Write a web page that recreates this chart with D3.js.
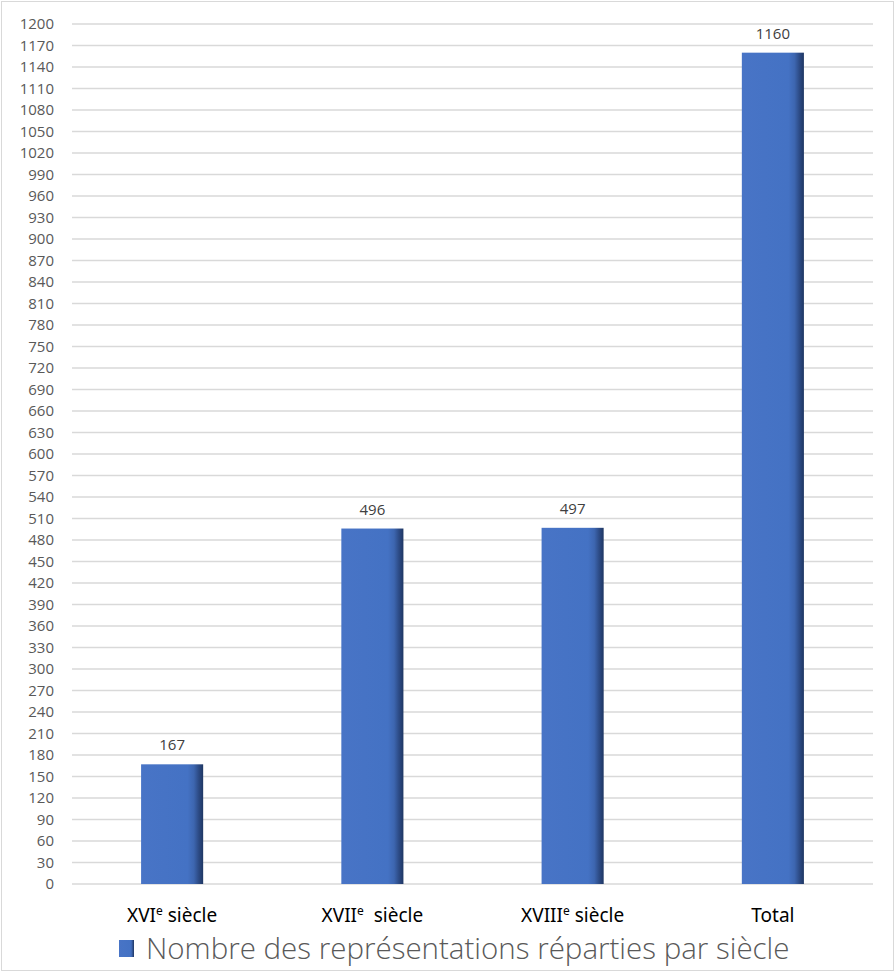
<!DOCTYPE html>
<html>
<head>
<meta charset="utf-8">
<script src="https://cdn.jsdelivr.net/npm/d3@7"></script>
<style>
	body { margin: 0; background: #fff; }
	text { white-space: pre; }
</style>
</head>
<body>
<svg></svg>
<script>
const categories = ['XVI', 'XVII', 'XVIII', 'Total'];
const suffixes = [' siècle', '  siècle', ' siècle', ''];
const values = [167, 496, 497, 1160];
const yTicks = d3.range(0, 1201, 30);
const legendLabel = 'Nombre des représentations réparties par siècle';

const width = 895;
const height = 972;
const margin = { top: 24, right: 22, bottom: 88, left: 72 };

const svg = d3.select('svg').attr('width', width).attr('height', height);

// Bar gradient (darker right edge)
const grad = svg
	.append('defs')
	.append('linearGradient')
	.attr('id', 'barGrad')
	.attr('x1', '0%')
	.attr('x2', '100%')
	.attr('y1', '0%')
	.attr('y2', '0%');
[
	['0%', '#4874c6'],
	['75%', '#4472c4'],
	['85%', '#3d66b0'],
	['93%', '#2c4a84'],
	['100%', '#1f3763'],
].forEach(([o, c]) => grad.append('stop').attr('offset', o).attr('stop-color', c));

// chart frame
svg
	.append('rect')
	.attr('x', 1.5)
	.attr('y', 1.5)
	.attr('width', width - 3)
	.attr('height', height - 3)
	.attr('fill', 'none')
	.attr('stroke', '#d9d9d9');

const x = d3
	.scaleBand()
	.domain(categories)
	.range([margin.left, width - margin.right])
	.paddingInner(0.69)
	.paddingOuter(0.345);

const y = d3
	.scaleLinear()
	.domain([0, 1200])
	.range([height - margin.bottom, margin.top]);

// gridlines
svg
	.append('g')
	.selectAll('line')
	.data(yTicks)
	.enter()
	.append('line')
	.attr('x1', margin.left)
	.attr('x2', width - margin.right)
	.attr('y1', (d) => y(d))
	.attr('y2', (d) => y(d))
	.attr('stroke', '#d9d9d9')
	.attr('stroke-width', 1.3);

// y axis labels
const yAxis = svg
	.append('g')
	.attr('transform', `translate(${margin.left - 18},0)`)
	.call(d3.axisLeft(y).tickValues(yTicks).tickFormat(d3.format('d')).tickSize(0).tickPadding(0));
yAxis.select('.domain').remove();
yAxis
	.selectAll('text')
	.attr('font-family', 'Open Sans, Noto Sans, sans-serif')
	.attr('font-size', 15)
	.attr('fill', '#595959');

// bars
svg
	.append('g')
	.selectAll('rect')
	.data(values)
	.enter()
	.append('rect')
	.attr('x', (d, i) => x(categories[i]))
	.attr('width', x.bandwidth())
	.attr('y', (d) => y(d))
	.attr('height', (d) => y(0) - y(d))
	.attr('fill', 'url(#barGrad)');

// value labels
svg
	.append('g')
	.selectAll('text')
	.data(values)
	.enter()
	.append('text')
	.attr('x', (d, i) => x(categories[i]) + x.bandwidth() / 2)
	.attr('y', (d) => y(d) - 14)
	.attr('text-anchor', 'middle')
	.attr('font-family', 'Open Sans, Noto Sans, sans-serif')
	.attr('font-size', 15)
	.attr('fill', '#404040')
	.text((d) => d);

// category labels with superscript "e"
const cat = svg
	.append('g')
	.selectAll('text')
	.data(categories)
	.enter()
	.append('text')
	.attr('x', (d) => x(d) + x.bandwidth() / 2)
	.attr('y', height - margin.bottom + 38)
	.attr('text-anchor', 'middle')
	.attr('font-family', 'Noto Sans, Open Sans, sans-serif')
	.attr('font-weight', 400)
	.attr('font-size', 19)
	.attr('fill', '#000');
cat.append('tspan').text((d) => d);
cat
	.filter((d, i) => suffixes[i] !== '')
	.append('tspan')
	.attr('dy', -7)
	.attr('font-size', 12)
	.text('e');
cat
	.filter((d, i) => suffixes[i] !== '')
	.append('tspan')
	.attr('dy', 7)
	.text((d) => suffixes[categories.indexOf(d)]);

// legend
const legend = svg.append('g');
legend
	.append('rect')
	.attr('x', 119)
	.attr('y', 940)
	.attr('width', 15)
	.attr('height', 17)
	.attr('fill', 'url(#barGrad)');
legend
	.append('text')
	.attr('x', 146)
	.attr('y', 959)
	.attr('font-family', 'Open Sans, Noto Sans, sans-serif')
	.attr('font-weight', 300)
	.attr('font-size', 29.5)
	.attr('fill', '#595959')
	.text(legendLabel);
</script>
</body>
</html>
